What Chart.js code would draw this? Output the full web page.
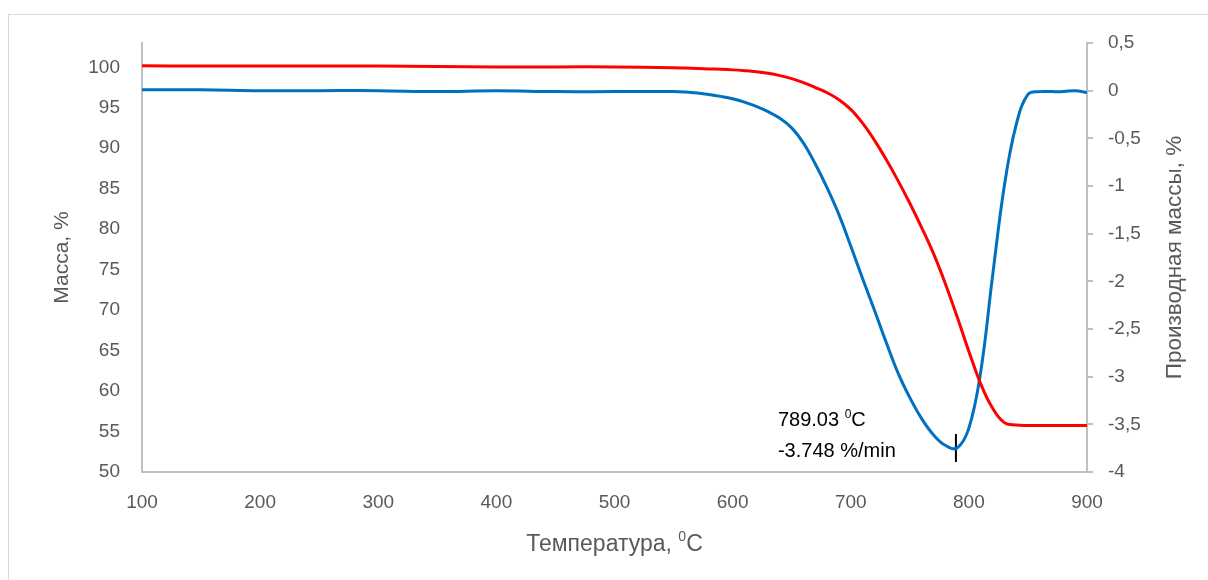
<!DOCTYPE html>
<html>
<head>
<meta charset="utf-8">
<script src="https://cdn.jsdelivr.net/npm/chart.js@4"></script>
<style>
  body { margin: 0; background: #fff; }
  #wrap { position: relative; width: 1208px; height: 580px; overflow: hidden; }
  #frame { position: absolute; left: 8px; top: 14px; width: 1300px; height: 700px; border: 1px solid #d9d9d9; }
  canvas { position: absolute; left: 0; top: 0; }
</style>
</head>
<body>
<div id="wrap">
  <div id="frame"></div>
  <canvas id="tga" width="1208" height="580"></canvas>
</div>
<script>
// temperature, °C
const temps = [100, 150, 200, 250, 300, 350, 400, 450, 500, 550, 560, 570, 580, 590, 600, 610, 620, 630, 640, 650,
  660, 670, 680, 690, 700, 710, 720, 730, 740, 750, 760, 770, 780, 790, 800, 810, 820, 830, 840, 850,
  860, 870, 880, 890, 900];
// mass, %
const mass = [100.2, 100.15, 100.15, 100.15, 100.15, 100.1, 100.05, 100.05, 100.05, 99.95, 99.9, 99.85, 99.8, 99.75, 99.68, 99.58, 99.45, 99.25, 98.97, 98.6,
  98.1, 97.5, 96.85, 96.0, 94.8, 93.1, 91.0, 88.6, 86.0, 83.2, 80.2, 77.0, 73.3, 69.2, 64.9, 60.9, 57.9, 56.1, 55.8, 55.75,
  55.75, 55.75, 55.75, 55.75, 55.75];
// derivative of mass, %/min
const deriv = [0.01, 0.01, 0.0, 0.0, 0.0, -0.01, 0.0, -0.01, -0.01, -0.01, -0.015, -0.025, -0.04, -0.06, -0.085, -0.12, -0.165, -0.22, -0.29, -0.39,
  -0.55, -0.77, -1.02, -1.3, -1.63, -1.97, -2.3, -2.64, -2.96, -3.22, -3.44, -3.61, -3.72, -3.748, -3.54, -2.95, -1.95, -1.0, -0.36, -0.04,
  -0.01, -0.01, -0.01, 0.0, -0.02];

const peakT = 789.03, peakD = -3.748;
const xTicks = [100, 200, 300, 400, 500, 600, 700, 800, 900];
const leftTicks = [50, 55, 60, 65, 70, 75, 80, 85, 90, 95, 100];
const rightTicks = [-4, -3.5, -3, -2.5, -2, -1.5, -1, -0.5, 0, 0.5];

const FONT = '"Liberation Sans", "DejaVu Sans", sans-serif';
const GREY = '#595959';
const AXIS = '#bfbfbf';

// text with superscript pieces: [text, isSup]
function drawParts(ctx, parts, x, y, size, color) {
  ctx.fillStyle = color;
  ctx.textAlign = 'left';
  ctx.textBaseline = 'alphabetic';
  let cx = x;
  parts.forEach(([t, sup]) => {
    const fs = sup ? Math.round(size * 0.62) : size;
    ctx.font = fs + 'px ' + FONT;
    ctx.fillText(t, cx, sup ? y - size * 0.42 : y);
    cx += ctx.measureText(t).width;
  });
  return cx - x;
}
function partsWidth(ctx, parts, size) {
  let w = 0;
  parts.forEach(([t, sup]) => {
    ctx.font = (sup ? Math.round(size * 0.62) : size) + 'px ' + FONT;
    w += ctx.measureText(t).width;
  });
  return w;
}

const labelsPlugin = {
  id: 'labels',
  afterDraw(chart) {
    const ctx = chart.ctx;
    const a = chart.chartArea;
    const sx = chart.scales.x, sy1 = chart.scales.y1;
    ctx.save();

    // x title
    const xt = [['Температура, ', false], ['0', true], ['C', false]];
    const w = partsWidth(ctx, xt, 23);
    drawParts(ctx, xt, (a.left + a.right) / 2 - w / 2, 551, 23, GREY);

    // y titles
    ctx.fillStyle = GREY;
    ctx.textAlign = 'center';
    ctx.textBaseline = 'middle';
    ctx.save();
    ctx.font = '21px ' + FONT;
    ctx.translate(62, (a.top + a.bottom) / 2);
    ctx.rotate(-Math.PI / 2);
    ctx.fillText('Масса, %', 0, 0);
    ctx.restore();
    ctx.save();
    ctx.font = '22.5px ' + FONT;
    ctx.translate(1175, (a.top + a.bottom) / 2);
    ctx.rotate(-Math.PI / 2);
    ctx.fillText('Производная массы, %', 0, 0);
    ctx.restore();

    // peak annotation
    const px = sx.getPixelForValue(peakT) - 178;
    const py = sy1.getPixelForValue(peakD);
    drawParts(ctx, [[peakT.toFixed(2) + ' ', false], ['0', true], ['C', false]], px, py - 22, 20, '#000');
    drawParts(ctx, [[peakD.toFixed(3) + ' %/min', false]], px, py + 9, 20, '#000');
    ctx.restore();
  }
};

new Chart(document.getElementById('tga'), {
  type: 'line',
  data: {
    datasets: [
      {
        label: 'Масса',
        data: temps.map((t, i) => ({ x: t, y: mass[i] })),
        yAxisID: 'y',
        borderColor: '#ff0000',
        borderWidth: 3,
        pointRadius: 0,
        tension: 0.4,
      },
      {
        label: 'Производная',
        data: temps.map((t, i) => ({ x: t, y: deriv[i] })),
        yAxisID: 'y1',
        borderColor: '#0070c0',
        borderWidth: 3,
        pointRadius: 0,
        tension: 0.4,
      },
      {
        label: 'peak',
        type: 'scatter',
        data: [{ x: peakT, y: peakD }],
        yAxisID: 'y1',
        pointStyle: 'line',
        rotation: 90,
        pointRadius: 14,
        borderColor: '#000',
        borderWidth: 2,
        showLine: false,
      },
    ],
  },
  options: {
    responsive: false,
    animation: false,
    layout: { padding: { top: 43, left: 0, right: 0, bottom: 0 } },
    plugins: { legend: { display: false }, tooltip: { enabled: false } },
    scales: {
      x: {
        type: 'linear',
        min: 100,
        max: 900,
        afterBuildTicks: s => { s.ticks = xTicks.map(v => ({ value: v })); },
        afterFit: s => { s.height = 108; },
        grid: { display: false, drawTicks: false },
        border: { color: AXIS, width: 2 },
        ticks: { color: GREY, font: { size: 19, family: FONT }, padding: 19, maxRotation: 0 },
      },
      y: {
        position: 'left',
        min: 50,
        max: 103,
        afterBuildTicks: s => { s.ticks = leftTicks.map(v => ({ value: v })); },
        afterFit: s => { s.width = 142; },
        grid: { display: false, drawTicks: false },
        border: { color: AXIS, width: 2 },
        ticks: { color: GREY, font: { size: 19, family: FONT }, padding: 22 },
      },
      y1: {
        position: 'right',
        min: -4,
        max: 0.5,
        afterBuildTicks: s => { s.ticks = rightTicks.map(v => ({ value: v })); },
        afterFit: s => { s.width = 121; },
        grid: { drawOnChartArea: false, drawTicks: true, tickLength: 6, color: AXIS, lineWidth: 2 },
        border: { color: AXIS, width: 2 },
        ticks: {
          color: GREY,
          font: { size: 19, family: FONT },
          padding: 15,
          callback: v => String(v).replace('.', ','),
        },
      },
    },
  },
  plugins: [labelsPlugin],
});
</script>
</body>
</html>
